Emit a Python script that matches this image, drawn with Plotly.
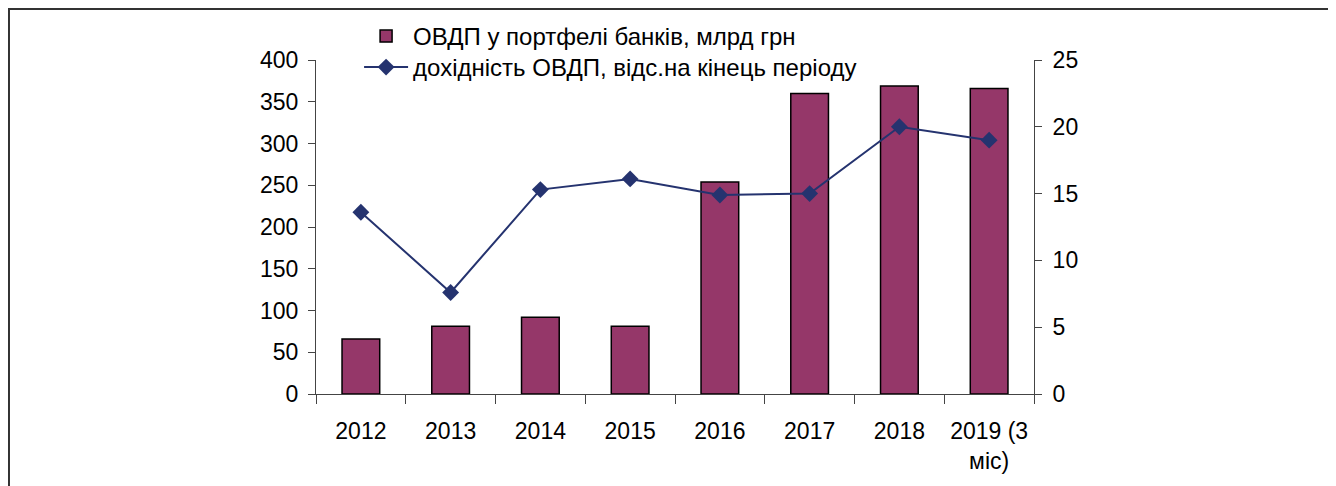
import plotly.graph_objects as go

years = ['2012', '2013', '2014', '2015', '2016', '2017', '2018', '2019 (3<br>міс)']
portfolio = [66, 81, 92, 81, 254, 360, 369, 366]
yields = [13.6, 7.6, 15.3, 16.1, 14.9, 15.0, 20.0, 19.0]

left_ticks = [0, 50, 100, 150, 200, 250, 300, 350, 400]
right_ticks = [0, 5, 10, 15, 20, 25]

bar_name = 'ОВДП у портфелі банків, млрд грн'
line_name = 'дохідність ОВДП, відс.на кінець періоду'

font = 'Liberation Sans, Arial, sans-serif'
axis_col = '#444444'

fig = go.Figure()

fig.add_trace(go.Bar(
    x=years, y=portfolio, name=bar_name, legend='legend',
    marker=dict(color='#953769', line=dict(color='black', width=1.5)),
))

fig.add_trace(go.Scatter(
    x=years, y=yields, name=line_name, yaxis='y2', legend='legend2',
    mode='lines+markers',
    line=dict(color='#25336f', width=2),
    marker=dict(symbol='diamond', size=13, color='#25336f'),
))

leg = dict(x=0.06, xanchor='left', yanchor='top', yref='container',
           bgcolor='rgba(0,0,0,0)', borderwidth=0, itemwidth=44,
           font=dict(size=24))

# page body has an 8px margin, so the figure is 8px smaller than the window
fig.update_layout(
    width=1328, height=478,
    margin=dict(l=308, r=302, t=52, b=92, autoexpand=False),
    paper_bgcolor='white', plot_bgcolor='white',
    font=dict(family=font, size=23, color='black'),
    bargap=0.58,
    showlegend=True,
    legend=dict(leg, y=0.9874),
    legend2=dict(leg, y=0.9226),
    xaxis=dict(type='category', range=[-0.5, 7.5], showgrid=False,
               showline=True, linecolor=axis_col, linewidth=1,
               ticks='outside', ticklen=9, tickcolor=axis_col,
               tickson='boundaries', ticklabelstandoff=16),
    xaxis2=dict(overlaying='x', range=[-0.5, 7.5], showgrid=False,
                showline=False, zeroline=False, showticklabels=False,
                ticks='inside', ticklen=8, tickcolor=axis_col,
                tickvals=[0.5, 1.5, 2.5, 3.5, 4.5, 5.5, 6.5]),
    yaxis=dict(range=[0, 400], tickvals=left_ticks, showgrid=False,
               zeroline=False, showline=True, linecolor=axis_col, linewidth=1,
               ticks='outside', ticklen=7, tickcolor=axis_col,
               ticklabelstandoff=5),
    yaxis2=dict(range=[0, 25], tickvals=right_ticks, overlaying='y',
                side='right', showgrid=False, zeroline=False,
                showline=True, linecolor=axis_col, linewidth=1,
                ticks='outside', ticklen=7, tickcolor=axis_col,
                ticklabelstandoff=6),
    yaxis3=dict(range=[0, 400], tickvals=left_ticks, overlaying='y',
                side='left', showgrid=False, zeroline=False, showline=False,
                showticklabels=False, ticks='inside', ticklen=8,
                tickcolor=axis_col),
    yaxis4=dict(range=[0, 25], tickvals=right_ticks, overlaying='y',
                side='right', showgrid=False, zeroline=False, showline=False,
                showticklabels=False, ticks='inside', ticklen=8,
                tickcolor=axis_col),
    shapes=[dict(type='rect', xref='paper', yref='paper',
                 x0=-0.4276, x1=1.4143, y0=-0.4, y1=1.1527,
                 line=dict(color='#333333', width=2))],
)

fig.write_html('out.html')
